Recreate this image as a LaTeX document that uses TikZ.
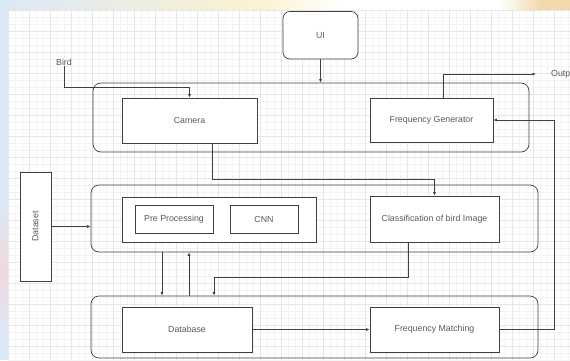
\documentclass[tikz,border=0pt]{standalone}
\usepackage{fontspec}
\setmainfont{Liberation Sans}
\usetikzlibrary{arrows.meta}
\definecolor{lnc}{HTML}{404040}
\definecolor{txc}{HTML}{5A5A5A}
\definecolor{bluebg}{HTML}{DCE8F7}
\definecolor{yelbg}{HTML}{FBF3CF}
\definecolor{orbg}{HTML}{F2D9AE}
\definecolor{pinkbg}{HTML}{EFD9DC}
\definecolor{gmaj}{HTML}{E6E6E6}
\definecolor{gmin}{HTML}{F3F3F3}
\tikzset{
  box/.style={draw=lnc, line width=0.7pt, fill=white, inner sep=0pt, text=txc,
    font=\fontsize{8.8}{10}\selectfont, align=center},
  cont/.style={draw=lnc, line width=0.7pt, rounded corners=8pt, inner sep=0pt},
  arr/.style={draw=lnc, line width=0.7pt, -{Latex[length=3.5pt,width=3pt]}},
  lbl/.style={text=txc, font=\fontsize{8.8}{10}\selectfont, inner sep=1pt}
}
\begin{document}
\begin{tikzpicture}[x=1pt,y=-1pt]
\useasboundingbox (0,0) rectangle (570,360);
% background
\fill[bluebg] (0,0) rectangle (570,360);
\shade[left color=bluebg, right color=yelbg] (0,0) rectangle (260,10);
\shade[left color=yelbg, right color=white] (260,0) rectangle (340,10);
\fill[white] (340,0) rectangle (500,10);
\shade[left color=white, right color=orbg] (500,0) rectangle (540,10);
\fill[orbg] (540,0) rectangle (570,10);
\shade[top color=bluebg, bottom color=pinkbg] (0,200) rectangle (8,270);
\shade[top color=pinkbg, bottom color=bluebg] (0,270) rectangle (8,330);
\fill[white] (8,10) rectangle (570,360);
\foreach \gx in {8,15,...,570} \draw[gmin, line width=0.4pt] (\gx,10) -- (\gx,360);
\foreach \gy in {10,17,...,360} \draw[gmin, line width=0.4pt] (8,\gy) -- (570,\gy);
\foreach \gx in {8,29,...,570} \draw[gmaj, line width=0.5pt] (\gx,10) -- (\gx,360);
\foreach \gy in {10,31,...,360} \draw[gmaj, line width=0.5pt] (8,\gy) -- (570,\gy);

% containers
\node[cont, minimum width=436pt, minimum height=69pt] (topc) at (311,117.5) {};
\node[cont, minimum width=447pt, minimum height=67pt] (midc) at (314.5,218.5) {};
\node[cont, minimum width=447pt, minimum height=62pt] (botc) at (314.5,327) {};

% nodes
\node[box, rounded corners=7pt, minimum width=75pt, minimum height=47.5pt] (ui) at (320.5,35.25) {UI};
\node[box, minimum width=135pt, minimum height=45pt] (cam) at (189.5,120.5) {Camera};
\node[box, minimum width=123pt, minimum height=44pt] (fg) at (431.5,120) {Frequency Generator};
\node[box, minimum width=194pt, minimum height=45pt] (grp) at (219,219.5) {};
\node[box, minimum width=78pt, minimum height=28pt] (pre) at (174,219) {Pre Processing};
\node[box, minimum width=68pt, minimum height=28pt] (cnn) at (264,219) {CNN};
\node[box, minimum width=129pt, minimum height=46pt] (cls) at (434.5,219) {Classification of bird Image};
\node[box, rotate=90, minimum width=109pt, minimum height=31pt] (ds) at (35.5,226.5) {Dataset};
\node[box, minimum width=130pt, minimum height=45pt] (db) at (187,329.5) {Database};
\node[box, minimum width=129pt, minimum height=45pt] (fm) at (434.5,329.5) {Frequency Matching};
\node[lbl] (bird) at (64,62) {Bird};
\node[lbl, anchor=west] (out) at (550,74) {Output};

% helper coordinates
\path (cam.north) ++(0,-10) coordinate (b2);
\path (fg.north) ++(11.5,0) coordinate (fgo);
\coordinate (outp) at (536,74);
\coordinate (r1) at (554,0);
\path (cam.south) ++(22.5,0) coordinate (cs);
\coordinate (cy) at (0,179);
\path (cls.south) ++(-26.5,0) coordinate (cls2);
\coordinate (dy) at (0,277);
\coordinate (dx) at (214,0);
\coordinate (d1) at (162,0);
\coordinate (u1) at (189,0);

% connectors
\draw[arr] (ui.south) -- (ui.south |- topc.north);
\draw[arr] (bird.south) |- (b2) -- (cam.north);
\draw[arr] (fgo) |- (outp);
\draw[arr] (fm.east) -- (fm.east -| r1) |- (fg.east);
\draw[arr] (cs) |- (cls.north |- cy) -- (cls.north);
\draw[arr] (cls2) |- (dx |- dy) -- (dx |- botc.north);
\draw[arr] (d1 |- midc.south) -- (d1 |- botc.north);
\draw[arr] (u1 |- botc.north) -- (u1 |- midc.south);
\draw[arr] (ds.south) -- (ds.south -| midc.west);
\draw[arr] (db.east) -- (fm.west);
\end{tikzpicture}
\end{document}
